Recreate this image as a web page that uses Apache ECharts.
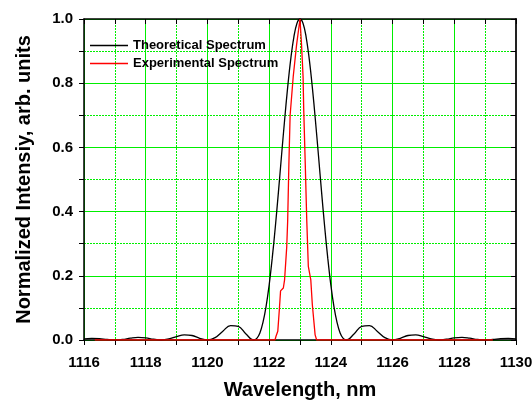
<!DOCTYPE html>
<html>
<head>
<meta charset="utf-8">
<script src="https://cdn.jsdelivr.net/npm/echarts@6/dist/echarts.min.js"></script>
<style>
html, body { margin: 0; padding: 0; background: #fff; }
#main { width: 532px; height: 403px; }
</style>
</head>
<body>
<div id="main"></div>
<script>
// theoretical spectrum
var theoWl = [1116.0, 1116.25, 1116.5, 1116.75, 1117.0, 1117.25, 1117.5, 1117.75, 1118.0, 1118.25,
    1118.5, 1118.75, 1119.0, 1119.25, 1119.5, 1119.75, 1120.0, 1120.25, 1120.5, 1120.75,
    1121.0, 1121.25, 1121.5, 1121.6, 1121.7, 1121.8, 1121.9, 1122.0, 1122.1, 1122.2,
    1122.3, 1122.4, 1122.5, 1122.6, 1122.7, 1122.8, 1122.9, 1123.0, 1123.1, 1123.2,
    1123.3, 1123.4, 1123.5, 1123.6, 1123.7, 1123.8, 1123.9, 1124.0, 1124.1, 1124.2,
    1124.3, 1124.4, 1124.5, 1124.75, 1125.0, 1125.25, 1125.5, 1125.75, 1126.0, 1126.25,
    1126.5, 1126.75, 1127.0, 1127.25, 1127.5, 1127.75, 1128.0, 1128.25, 1128.5, 1128.75,
    1129.0, 1129.25, 1129.5, 1129.75, 1130.0];
var theoVal = [0.0035, 0.005, 0.004, 0.0015, 0, 0.0017, 0.0057, 0.0083, 0.0068, 0.0025,
    0, 0.0032, 0.0107, 0.0162, 0.014, 0.0054, 0, 0.0075, 0.0274, 0.045,
    0.0427, 0.0186, 0, 0.005, 0.022, 0.055, 0.104, 0.171, 0.255, 0.352,
    0.46, 0.573, 0.684, 0.787, 0.875, 0.943, 0.986, 1.0, 0.986, 0.943,
    0.875, 0.787, 0.684, 0.573, 0.46, 0.352, 0.255, 0.171, 0.104, 0.055,
    0.022, 0.005, 0, 0.0186, 0.0427, 0.045, 0.0274, 0.0075, 0, 0.0054,
    0.014, 0.0162, 0.0107, 0.0032, 0, 0.0025, 0.0068, 0.0083, 0.0057, 0.0017,
    0, 0.0015, 0.004, 0.005, 0.0035];

// experimental spectrum
var expWl = [1116.35, 1122.19, 1122.22, 1122.28, 1122.33, 1122.37, 1122.46, 1122.5, 1122.57, 1122.6,
    1122.64, 1122.68, 1122.78, 1122.89, 1123.0, 1123.05, 1123.1, 1123.12, 1123.17, 1123.22,
    1123.27, 1123.35, 1123.4, 1123.49, 1123.54, 1129.25];
var expVal = [0, 0, 0.011, 0.027, 0.094, 0.153, 0.162, 0.187, 0.29, 0.37,
    0.55, 0.70, 0.82, 0.92, 1.0, 0.92, 0.82, 0.72, 0.55, 0.37,
    0.229, 0.187, 0.11, 0.016, 0, 0];

var seriesNames = ['Theoretical Spectrum', 'Experimental Spectrum'];
var yTickLabels = ['0.0', '0.2', '0.4', '0.6', '0.8', '1.0'];

function pairs(xs, ys) {
    return xs.map(function (x, i) { return [x, ys[i]]; });
}

var font = 'Liberation Sans';
var green = '#00ee00';

var myChart = echarts.init(document.getElementById('main'));
myChart.setOption({
    backgroundColor: '#fff',
    animation: false,
    grid: { left: 84, right: 16, top: 19, bottom: 63, outerBoundsMode: 'none' },
    legend: {
        orient: 'vertical',
        left: 85,
        top: 34,
        itemGap: 5,
        itemWidth: 38,
        itemHeight: 1.5,
        icon: 'rect',
        data: seriesNames,
        textStyle: { fontFamily: font, fontWeight: 'bold', fontSize: 13, color: '#000' }
    },
    xAxis: [{
        type: 'value',
        min: 1116,
        max: 1130,
        interval: 2,
        name: 'Wavelength, nm',
        nameLocation: 'middle',
        nameGap: 40,
        nameTextStyle: { fontFamily: font, fontWeight: 'bold', fontSize: 20, color: '#000' },
        axisLine: { onZero: false, lineStyle: { color: '#000', width: 1.5 } },
        axisTick: { length: 5, lineStyle: { color: '#000', width: 1 } },
        minorTick: { show: true, splitNumber: 2, length: 5, lineStyle: { color: '#000', width: 1 } },
        axisLabel: {
            fontFamily: font, fontWeight: 'bold', fontSize: 15, color: '#000', margin: 15,
            formatter: function (v) { return String(v); }
        },
        splitLine: { show: true, lineStyle: { color: green, width: 1 } },
        minorSplitLine: { show: true, lineStyle: { color: green, width: 1, type: [2, 1] } }
    }, {
        type: 'value',
        position: 'top',
        min: 1116,
        max: 1130,
        interval: 2,
        axisLine: { show: true, onZero: false, lineStyle: { color: '#000', width: 1.5 } },
        axisTick: { show: true, inside: true, length: 5, lineStyle: { color: '#000' } },
        minorTick: { show: true, splitNumber: 2, length: 5, lineStyle: { color: '#000' } },
        axisLabel: { show: false },
        splitLine: { show: false }
    }],
    yAxis: [{
        type: 'value',
        min: 0,
        max: 1,
        interval: 0.2,
        name: 'Normalized Intensiy, arb. units',
        nameLocation: 'middle',
        nameGap: 50,
        nameTextStyle: { fontFamily: font, fontWeight: 'bold', fontSize: 20, color: '#000' },
        axisLine: { show: true, onZero: false, lineStyle: { color: '#000', width: 1.5 } },
        axisTick: { show: true, length: 5, lineStyle: { color: '#000' } },
        minorTick: { show: true, splitNumber: 2, length: 5, lineStyle: { color: '#000' } },
        axisLabel: {
            fontFamily: font, fontWeight: 'bold', fontSize: 15, color: '#000', margin: 11,
            formatter: function (v) { return yTickLabels[Math.round(v / 0.2)]; }
        },
        splitLine: { show: true, lineStyle: { color: green, width: 1 } },
        minorSplitLine: { show: true, lineStyle: { color: green, width: 1, type: [2, 1] } }
    }, {
        type: 'value',
        position: 'right',
        min: 0,
        max: 1,
        interval: 0.2,
        axisLine: { show: true, onZero: false, lineStyle: { color: '#222', width: 2 } },
        axisTick: { show: true, inside: true, length: 5, lineStyle: { color: '#000' } },
        minorTick: { show: true, splitNumber: 2, length: 5, lineStyle: { color: '#000' } },
        axisLabel: { show: false },
        splitLine: { show: false }
    }],
    series: [{
        name: seriesNames[0],
        type: 'line',
        xAxisIndex: 0,
        yAxisIndex: 0,
        symbol: 'none',
        smooth: 0.4,
        color: '#000',
        lineStyle: { color: '#000', width: 1.3 },
        data: pairs(theoWl, theoVal),
        z: 3
    }, {
        name: seriesNames[1],
        type: 'line',
        xAxisIndex: 0,
        yAxisIndex: 0,
        symbol: 'none',
        color: '#ff0000',
        lineStyle: { color: '#ff0000', width: 1.3 },
        data: pairs(expWl, expVal),
        z: 4
    }]
});
</script>
</body>
</html>
